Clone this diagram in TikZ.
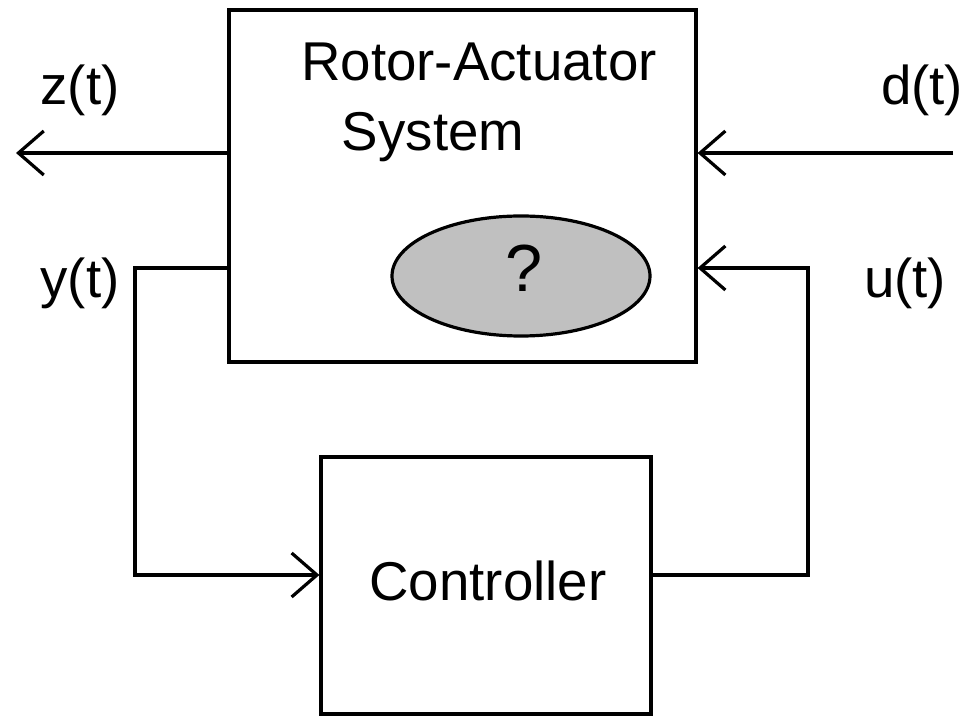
\documentclass[tikz,border=0pt]{standalone}
\usepackage{fontspec}
\setmainfont{Liberation Sans}
\usetikzlibrary{arrows.meta,shapes.geometric}
\begin{document}
\begin{tikzpicture}[x=0.75pt,y=-0.75pt,
  line width=2.4pt,
  block/.style={draw,rectangle,inner sep=0pt},
  sig/.style={-{Straight Barb[length=19pt,width=33pt,line width=2.4pt]}},
  lbl/.style={anchor=base,inner sep=0pt,font=\fontsize{41}{49}\selectfont}]
\useasboundingbox (0,0) rectangle (968,716);

% plant and controller blocks
\node[block,minimum width=350.25pt,minimum height=264pt] (plant) at (462.5,186) {};
\node[block,minimum width=247.5pt,minimum height=192.75pt] (ctrl) at (486,585.5) {};
\node[draw,ellipse,fill={rgb,255:red,192;green,192;blue,192},inner sep=0pt,
      minimum width=193.5pt,minimum height=90pt] (unc) at (521,276) {};

% texts
\node[lbl] (t1) at (479,81) {Rotor-Actuator};
\node[lbl] (t2) at (433,151) {System};
\node[lbl,font=\fontsize{50}{60}\selectfont] (q) at (524,292) {?};
\node[lbl] (tc) at (488,600) {Controller};
\node[lbl] (lz) at (80,105) {z(t)};
\node[lbl] (ld) at (922,105) {d(t)};
\node[lbl] (ly) at (80,298) {y(t)};
\node[lbl] (lu) at (905,298) {u(t)};

% signal routing points
\coordinate (zend) at (16,153);
\coordinate (dbeg) at (953,153);
\coordinate (yup) at (135,268);
\coordinate (ylo) at (135,575);
\coordinate (ulo) at (808,575);
\coordinate (uup) at (808,268);

% signals
\draw[sig] (plant.west |- zend) -- (zend);
\draw[sig] (dbeg) -- (plant.east |- dbeg);
\draw[sig] (plant.west |- yup) -- (yup) -- (ylo) -- (ctrl.west |- ylo);
\draw[sig] (ctrl.east |- ulo) -- (ulo) -- (uup) -- (plant.east |- uup);
\end{tikzpicture}
\end{document}
